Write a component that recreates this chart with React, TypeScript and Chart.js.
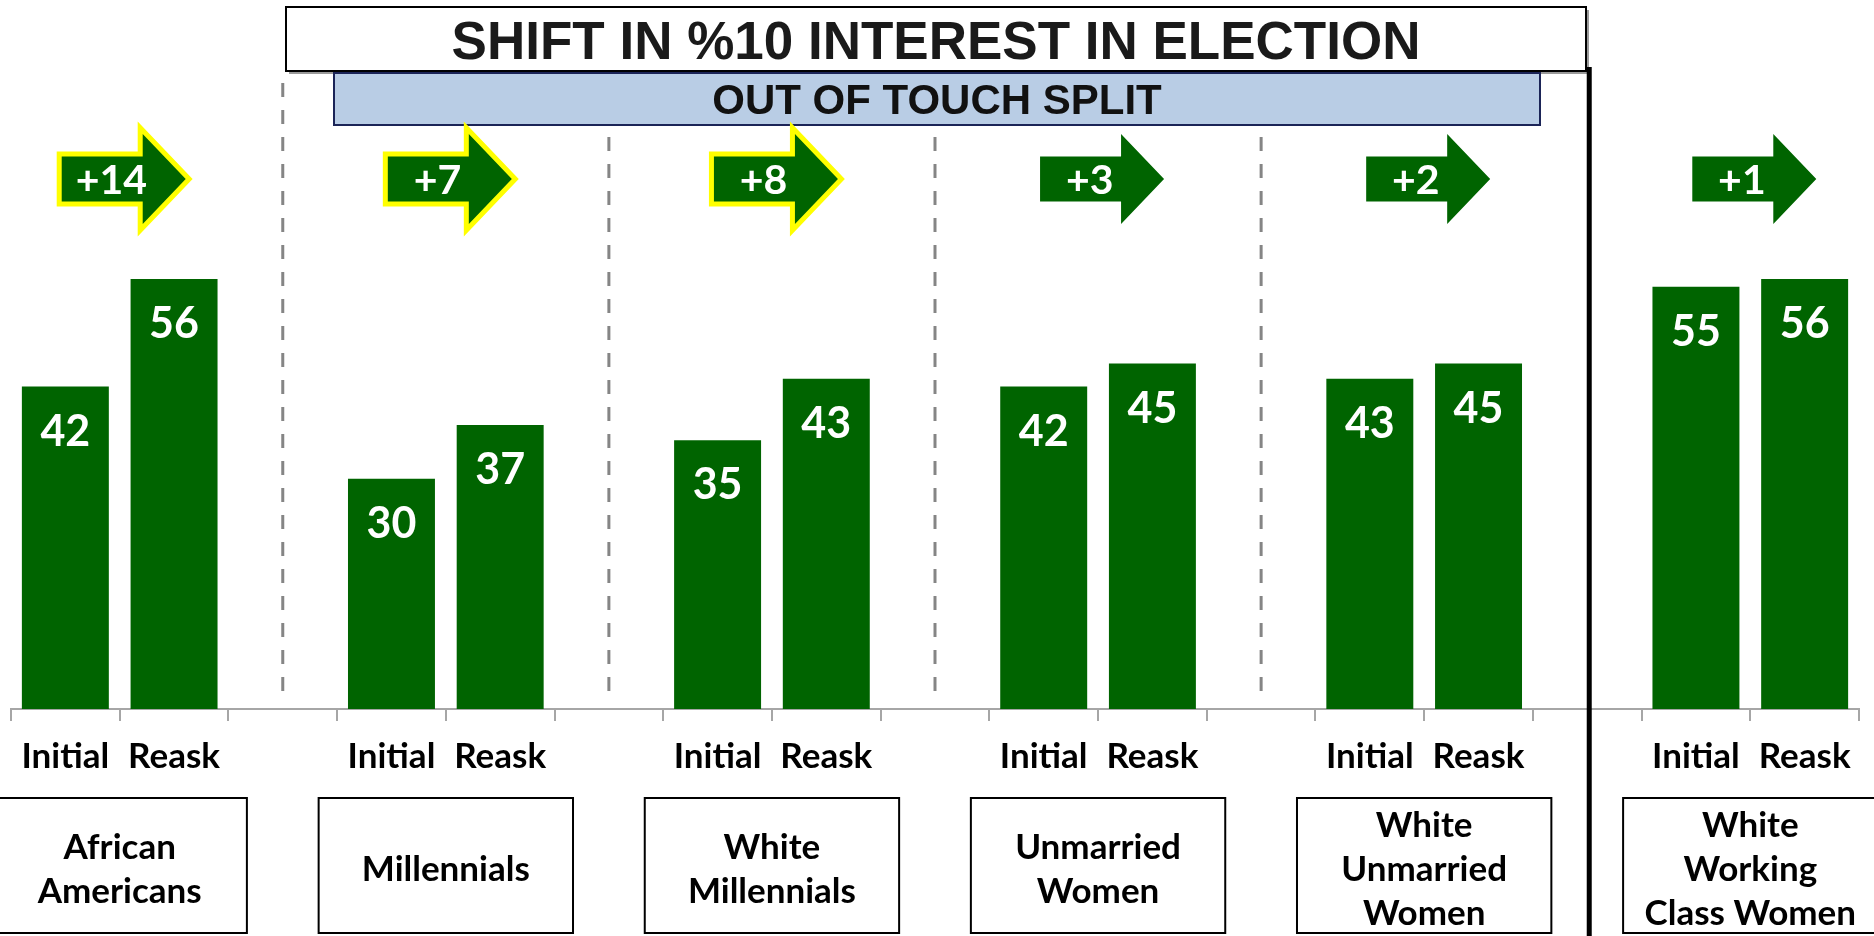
import React, { useEffect, useRef } from "react";
import { Chart, registerables } from "chart.js";

Chart.register(...registerables);

// ---------------- DATA ----------------
const titleText = "SHIFT IN %10 INTEREST IN ELECTION";
const subtitleText = "OUT OF TOUCH SPLIT";
const waveLabels = ["Initial", "Reask"];
const groupLabelLines = [
  ["African", "Americans"],
  ["Millennials"],
  ["White", "Millennials"],
  ["Unmarried", "Women"],
  ["White", "Unmarried", "Women"],
  ["White", "Working", "Class Women"],
];
const initialValues = [42, 30, 35, 42, 43, 55];
const reaskValues = [56, 37, 43, 45, 45, 56];
const highlightedShift = [true, true, true, false, false, false];
const separatorStyles = ["dashed", "dashed", "dashed", "dashed", "solid"];

// Build category table (two bars per group, an empty slot between groups)
const categoryLabels: string[] = [];
const barValues: (number | null)[] = [];
const groupStartIndex: number[] = [];
groupLabelLines.forEach((_, i) => {
  groupStartIndex.push(categoryLabels.length);
  categoryLabels.push(waveLabels[0], waveLabels[1]);
  barValues.push(initialValues[i], reaskValues[i]);
  if (i < groupLabelLines.length - 1) {
    categoryLabels.push("");
    barValues.push(null);
  }
});

const GREEN = "#006400";
const LABEL_FONT = "Lato, 'Open Sans', sans-serif";
const TITLE_FONT = "'Liberation Sans', Arial, sans-serif";

function arrowPath(ctx: CanvasRenderingContext2D, cx: number, cy: number, w: number, h: number, bodyH: number, headL: number) {
  const left = cx - w / 2;
  const right = cx + w / 2;
  const base = right - headL;
  ctx.beginPath();
  ctx.moveTo(left, cy - bodyH / 2);
  ctx.lineTo(base, cy - bodyH / 2);
  ctx.lineTo(base, cy - h / 2);
  ctx.lineTo(right, cy);
  ctx.lineTo(base, cy + h / 2);
  ctx.lineTo(base, cy + bodyH / 2);
  ctx.lineTo(left, cy + bodyH / 2);
  ctx.closePath();
}

const overlayPlugin = {
  id: "overlay",
  afterDraw(chart: any) {
    const ctx: CanvasRenderingContext2D = chart.ctx;
    const xs = chart.scales.x;
    const area = chart.chartArea;
    const catW = xs.getPixelForValue(1) - xs.getPixelForValue(0);
    ctx.save();

    // dashed separators
    separatorStyles.forEach((style, i) => {
      if (style !== "dashed") return;
      const x = xs.getPixelForValue(groupStartIndex[i] + 2);
      ctx.save();
      ctx.strokeStyle = "#858585";
      ctx.lineWidth = 3;
      ctx.setLineDash([14, 13]);
      ctx.beginPath();
      ctx.moveTo(x, 83);
      ctx.lineTo(x, area.bottom - 8);
      ctx.stroke();
      ctx.restore();
    });

    // title box (with faint shadow)
    ctx.fillStyle = "#9a9a9a";
    ctx.fillRect(289, 10, 1300, 64);
    ctx.fillStyle = "#ffffff";
    ctx.fillRect(286, 7, 1300, 64);
    ctx.strokeStyle = "#000000";
    ctx.lineWidth = 2;
    ctx.strokeRect(286, 7, 1300, 64);
    ctx.fillStyle = "#1a1a1a";
    ctx.font = `bold 53px ${TITLE_FONT}`;
    ctx.textAlign = "center";
    ctx.textBaseline = "alphabetic";
    ctx.fillText(titleText, 936, 59);

    // subtitle box
    ctx.fillStyle = "#b9cde5";
    ctx.fillRect(334, 73, 1206, 52);
    ctx.strokeStyle = "#1b2457";
    ctx.lineWidth = 2;
    ctx.strokeRect(334, 73, 1206, 52);
    ctx.fillStyle = "#1b2457";
    ctx.fillRect(334, 124, 1207, 2);
    ctx.fillStyle = "#111111";
    ctx.font = `bold 42px ${TITLE_FONT}`;
    ctx.fillText(subtitleText, 937, 114);

    // solid separator
    separatorStyles.forEach((style, i) => {
      if (style !== "solid") return;
      const x = xs.getPixelForValue(groupStartIndex[i] + 2) + 2;
      ctx.fillStyle = "#000000";
      ctx.fillRect(x - 2.5, 67, 5, chart.height - 67);
    });

    // shift arrows
    groupLabelLines.forEach((_, i) => {
      const s = groupStartIndex[i];
      const cx = (xs.getPixelForValue(s) + xs.getPixelForValue(s + 1)) / 2 + 4;
      const cy = 179;
      const w = 124, h = 90, bodyH = 45, headL = 43;
      arrowPath(ctx, cx, cy, w, h, bodyH, headL);
      if (highlightedShift[i]) {
        ctx.strokeStyle = "#ffff00";
        ctx.lineWidth = 10;
        ctx.lineJoin = "miter";
        ctx.stroke();
      }
      ctx.fillStyle = GREEN;
      ctx.fill();
      const diff = reaskValues[i] - initialValues[i];
      ctx.fillStyle = "#ffffff";
      ctx.font = `bold 41px ${LABEL_FONT}`;
      ctx.textAlign = "center";
      ctx.textBaseline = "alphabetic";
      ctx.fillText((diff >= 0 ? "+" : "") + diff, cx - w / 2 + 0.4 * w, cy + 15);
    });

    // group boxes
    groupLabelLines.forEach((lines, i) => {
      const s = groupStartIndex[i];
      const cx = (xs.getPixelForValue(s) + xs.getPixelForValue(s + 1)) / 2;
      const bw = catW * 2.34;
      const top = area.bottom + 89;
      const bh = 135;
      ctx.fillStyle = "#ffffff";
      ctx.fillRect(cx - bw / 2, top, bw, bh);
      ctx.strokeStyle = "#000000";
      ctx.lineWidth = 2;
      ctx.strokeRect(cx - bw / 2, top, bw, bh);
      ctx.fillStyle = "#000000";
      ctx.font = `bold 35px ${LABEL_FONT}`;
      ctx.textAlign = "center";
      ctx.textBaseline = "alphabetic";
      const lh = 44;
      const cy = top + bh / 2 + 3;
      lines.forEach((ln, k) => {
        const y = cy + (k - (lines.length - 1) / 2) * lh + 12.5;
        ctx.fillText(ln, cx, y);
      });
    });

    // bar value labels
    const meta = chart.getDatasetMeta(0);
    ctx.fillStyle = "#ffffff";
    ctx.font = `bold 43px ${LABEL_FONT}`;
    ctx.textAlign = "center";
    ctx.textBaseline = "alphabetic";
    meta.data.forEach((el: any, idx: number) => {
      const v = barValues[idx];
      if (v === null || v === undefined) return;
      ctx.fillText(String(v), el.x, el.y + 59);
    });

    ctx.restore();
  },
};

export default function App() {
  const canvasRef = useRef<HTMLCanvasElement | null>(null);

  useEffect(() => {
    const canvas = canvasRef.current;
    if (!canvas) return;
    const chart = new Chart(canvas, {
      type: "bar",
      data: {
        labels: categoryLabels,
        datasets: [
          {
            data: barValues as any,
            backgroundColor: GREEN,
            barPercentage: 0.8,
            categoryPercentage: 1.0,
          },
        ],
      },
      options: {
        responsive: false,
        animation: false,
        devicePixelRatio: 1,
        layout: { padding: { left: 11, right: 15, top: 18, bottom: 0 } },
        plugins: {
          legend: { display: false },
          title: { display: false },
          tooltip: { enabled: false },
        },
        scales: {
          x: {
            grid: {
              drawOnChartArea: false,
              color: "#a6a6a6",
              lineWidth: 2,
              tickLength: 12,
              offset: true,
            },
            border: { color: "#a6a6a6", width: 2 },
            ticks: {
              autoSkip: false,
              maxRotation: 0,
              color: "#000000",
              padding: 15,
              font: { family: LABEL_FONT, size: 35, weight: "bold" },
            },
            afterFit: (axis: any) => {
              axis.height = 227;
            },
          },
          y: {
            display: false,
            min: 0,
            max: 90,
          },
        },
      },
      plugins: [overlayPlugin],
    });
    return () => chart.destroy();
  }, []);

  return (
    <div style={{ position: "fixed", left: 0, top: 0, width: 1874, height: 936, background: "#ffffff" }}>
      <canvas ref={canvasRef} width={1874} height={936} style={{ display: "block", width: 1874, height: 936 }} />
    </div>
  );
}
